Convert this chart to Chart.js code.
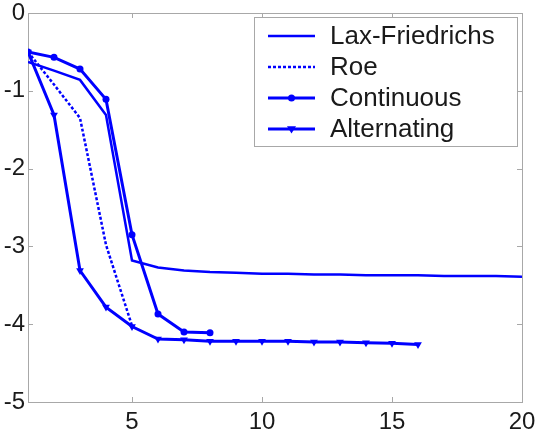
<!DOCTYPE html>
<html>
<head>
<meta charset="utf-8">
<script src="https://cdn.jsdelivr.net/npm/chart.js@4/dist/chart.umd.min.js"></script>
<style>
  html, body { margin:0; padding:0; background:#fff; }
</style>
</head>
<body>
<canvas id="chart" width="537" height="446"></canvas>
<script>
// residual history (log10) per iteration
const lfIter  = [1,2,3,4,5,6,7,8,9,10,11,12,13,14,15,16,17,18,19,20];
const lfRes   = [-0.63,-0.74,-0.86,-1.31,-3.18,-3.27,-3.31,-3.33,-3.34,-3.35,-3.35,-3.36,-3.36,-3.37,-3.37,-3.37,-3.38,-3.38,-3.38,-3.39];
const roeIter = [1,2,3,4,5];
const roeRes  = [-0.5,-0.92,-1.35,-2.98,-4.02];
const contIter = [1,2,3,4,5,6,7,8];
const contRes  = [-0.5,-0.57,-0.72,-1.11,-2.85,-3.87,-4.10,-4.11];
const altIter = [1,2,3,4,5,6,7,8,9,10,11,12,13,14,15,16];
const altRes  = [-0.5,-1.31,-3.31,-3.78,-4.03,-4.19,-4.20,-4.22,-4.22,-4.22,-4.22,-4.23,-4.23,-4.24,-4.245,-4.26];
const xTicks = [5,10,15,20];
const yTicks = [0,-1,-2,-3,-4,-5];

const blue = '#0000ff';
const axisGray = '#a8a8a8';
const family = '"Liberation Sans", Arial, Helvetica, sans-serif';
const font = { family, size: 24 };

function pts(xs, ys){ return xs.map((x,i)=>({ x, y: ys[i] })); }

// matlab-ish box with inward ticks on all four sides
const boxPlugin = {
  id: 'box',
  beforeDatasetsDraw(chart){
    const { ctx, chartArea: a, scales } = chart;
    ctx.save();
    ctx.strokeStyle = axisGray;
    ctx.lineWidth = 1;
    ctx.strokeRect(Math.round(a.left)+0.5, Math.round(a.top)+0.5, Math.round(a.right-a.left), Math.round(a.bottom-a.top));
    const t = 5;
    ctx.beginPath();
    xTicks.forEach(v => {
      const px = Math.round(scales.x.getPixelForValue(v)) + 0.5;
      ctx.moveTo(px, a.bottom); ctx.lineTo(px, a.bottom - t);
      ctx.moveTo(px, a.top); ctx.lineTo(px, a.top + t);
    });
    yTicks.forEach(v => {
      const py = Math.round(scales.y.getPixelForValue(v)) + 0.5;
      ctx.moveTo(a.left, py); ctx.lineTo(a.left + t, py);
      ctx.moveTo(a.right, py); ctx.lineTo(a.right - t, py);
    });
    ctx.stroke();
    ctx.restore();
  }
};

function drawMarker(ctx, style, r, x, y){
  ctx.beginPath();
  if(style === 'circle'){
    ctx.arc(x, y, r, 0, Math.PI*2);
  } else if(style === 'triangle'){
    // pointing down
    ctx.moveTo(x - r, y - r*0.6);
    ctx.lineTo(x + r, y - r*0.6);
    ctx.lineTo(x, y + r);
    ctx.closePath();
  }
  ctx.fill();
}

const legendPlugin = {
  id: 'boxLegend',
  afterDraw(chart){
    const { ctx, chartArea: a } = chart;
    const w = 263, h = 129;
    const bx = Math.round(a.right - 5 - w), by = Math.round(a.top + 4);
    ctx.save();
    ctx.fillStyle = '#fff';
    ctx.fillRect(bx, by, w, h);
    ctx.strokeStyle = axisGray;
    ctx.lineWidth = 1;
    ctx.strokeRect(bx+0.5, by+0.5, w, h);
    ctx.font = '26px ' + family;
    ctx.textBaseline = 'middle';
    chart.data.datasets.forEach((ds, i) => {
      const y = by + 19 + i*31;
      const x0 = bx + 14, x1 = bx + 61;
      ctx.strokeStyle = ds.borderColor;
      ctx.lineWidth = ds.borderWidth;
      ctx.setLineDash(ds.borderDash || []);
      ctx.beginPath(); ctx.moveTo(x0, y); ctx.lineTo(x1, y); ctx.stroke();
      ctx.setLineDash([]);
      if(ds.pointRadius > 0){
        ctx.fillStyle = ds.borderColor;
        drawMarker(ctx, ds.pointStyle, ds.pointRadius, (x0+x1)/2, y);
      }
      ctx.fillStyle = '#1a1a1a';
      ctx.fillText(ds.label, bx + 76, y + 1);
    });
    ctx.restore();
  }
};

const ctx = document.getElementById('chart').getContext('2d');
new Chart(ctx, {
  type: 'line',
  data: {
    datasets: [
      { label:'Lax-Friedrichs', data: pts(lfIter, lfRes), borderColor: blue, borderWidth: 2.5, pointRadius: 0 },
      { label:'Roe', data: pts(roeIter, roeRes), borderColor: blue, borderWidth: 2.5, borderDash:[3,2], pointRadius: 0 },
      { label:'Continuous', data: pts(contIter, contRes), borderColor: blue, backgroundColor: blue, borderWidth: 3,
        pointStyle:'circle', pointRadius: 3.5, pointBorderWidth: 0 },
      { label:'Alternating', data: pts(altIter, altRes), borderColor: blue, backgroundColor: blue, borderWidth: 3,
        pointStyle:'triangle', pointRotation: 180, pointRadius: 4.5, pointBorderWidth: 0 }
    ]
  },
  options: {
    responsive: false,
    animation: false,
    devicePixelRatio: 1,
    layout: { padding: { top: 13, right: 15, left: 0, bottom: 0 } },
    plugins: { legend: { display: false }, tooltip: { enabled: false } },
    elements: { line: { tension: 0 } },
    scales: {
      x: {
        type: 'linear', min: 1, max: 20,
        afterBuildTicks: s => { s.ticks = xTicks.map(v => ({ value: v })); },
        afterFit: s => { s.height = 44; s.paddingLeft = 0; s.paddingRight = 0; },
        grid: { display: false, drawTicks: false },
        border: { display: false },
        ticks: { font, color: '#1a1a1a', padding: 6, maxRotation: 0, autoSkip: false }
      },
      y: {
        type: 'linear', min: -5, max: 0,
        afterBuildTicks: s => { s.ticks = yTicks.map(v => ({ value: v })); },
        afterFit: s => { s.width = 28; s.paddingTop = 0; s.paddingBottom = 0; },
        grid: { display: false, drawTicks: false },
        border: { display: false },
        ticks: { font, color: '#1a1a1a', padding: 3 }
      }
    }
  },
  plugins: [boxPlugin, legendPlugin]
});
</script>
</body>
</html>
